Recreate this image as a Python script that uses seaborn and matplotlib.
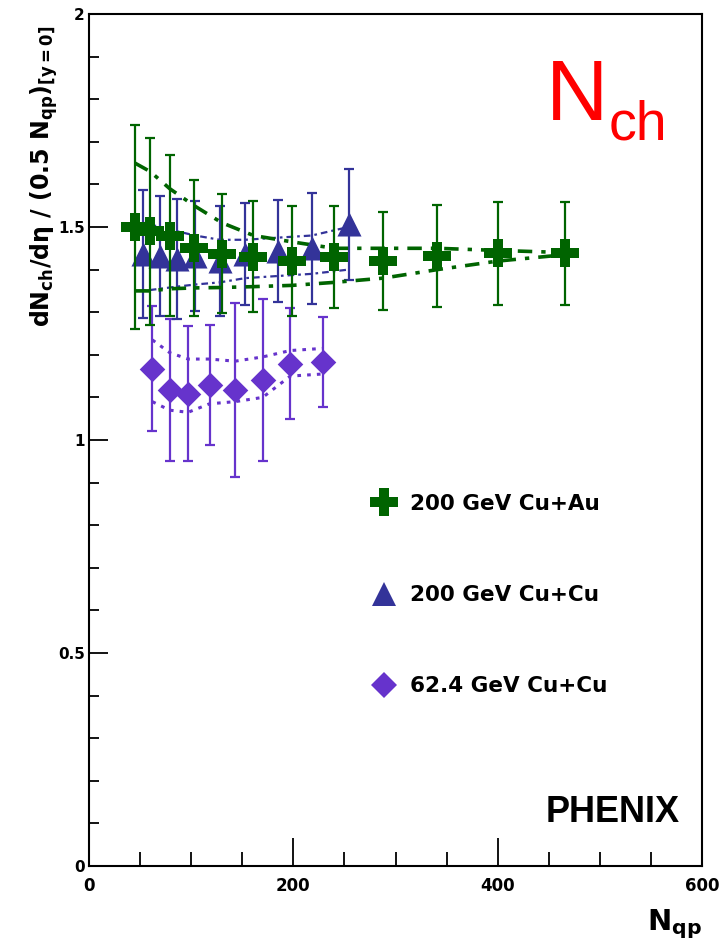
import matplotlib
matplotlib.use("Agg")
import matplotlib.pyplot as plt
from matplotlib.lines import Line2D
from matplotlib.ticker import MultipleLocator, FixedLocator
import seaborn as sns
import pandas as pd

# ---------------- data ----------------
cuau_x = [45, 60, 79, 103, 130, 161, 199, 240, 288, 341, 400, 466]
cuau_y = [1.50, 1.49, 1.48, 1.45, 1.437, 1.43, 1.42, 1.43, 1.42, 1.432, 1.438, 1.438]
cuau_err = [0.24, 0.22, 0.19, 0.16, 0.14, 0.13, 0.13, 0.12, 0.115, 0.12, 0.12, 0.12]
cuau_hi = [1.65, 1.63, 1.59, 1.55, 1.51, 1.48, 1.465, 1.45, 1.45, 1.45, 1.445, 1.44]
cuau_lo = [1.35, 1.35, 1.355, 1.357, 1.358, 1.36, 1.363, 1.37, 1.38, 1.40, 1.42, 1.435]

cucu200_x = [53, 69.5, 86, 104, 128, 153, 185, 218, 254]
cucu200_y = [1.436, 1.432, 1.425, 1.432, 1.42, 1.436, 1.444, 1.45, 1.506]
cucu200_err = [0.15, 0.14, 0.14, 0.13, 0.13, 0.12, 0.12, 0.13, 0.13]
cucu200_hi = [1.51, 1.50, 1.49, 1.48, 1.47, 1.47, 1.475, 1.48, 1.50]
cucu200_lo = [1.35, 1.355, 1.36, 1.365, 1.37, 1.38, 1.385, 1.39, 1.40]

cucu62_x = [62, 79, 97, 118, 143, 170, 197, 229]
cucu62_y = [1.167, 1.117, 1.109, 1.129, 1.117, 1.14, 1.179, 1.183]
cucu62_err = [0.147, 0.167, 0.158, 0.14, 0.205, 0.19, 0.13, 0.105]
cucu62_hi = [1.235, 1.205, 1.19, 1.19, 1.185, 1.195, 1.21, 1.215]
cucu62_lo = [1.09, 1.07, 1.065, 1.085, 1.09, 1.10, 1.15, 1.155]

labels = ["200 GeV Cu+Au", "200 GeV Cu+Cu", "62.4 GeV Cu+Cu"]
x_ticks = [0, 200, 400, 600]
y_ticks = [0, 0.5, 1, 1.5, 2]
y_ticklabels = ["0", "0.5", "1", "1.5", "2"]

GREEN = "#006400"
BLUE = "#333399"
PURPLE = "#6633cc"

sns.set_style("ticks")
plt.rcParams["font.family"] = ["DejaVu Sans"]
plt.rcParams["mathtext.default"] = "regular"
for k in ["text.color", "axes.labelcolor", "xtick.color", "ytick.color", "axes.edgecolor"]:
    plt.rcParams[k] = "black"

W, H = 724, 944
fig = plt.figure(figsize=(W / 100, H / 100), dpi=100)
ax = fig.add_axes([89 / W, 1 - 866 / H, 613 / W, 852 / H])

series = [
    (cucu62_x, cucu62_y, cucu62_err, cucu62_hi, cucu62_lo, PURPLE, "D", 170, (0, (1.2, 2.0)), 2.2, labels[2]),
    (cucu200_x, cucu200_y, cucu200_err, cucu200_hi, cucu200_lo, BLUE, "^", 300, (0, (1.2, 1.8, 3, 1.8)), 1.6, labels[1]),
    (cuau_x, cuau_y, cuau_err, cuau_hi, cuau_lo, GREEN, "P", 400, (0, (4, 2.5, 1.2, 2.5)), 2.6, labels[0]),
]

handles = {}
for i, (xs, ys, es, hi, lo, col, mk, s, ls, blw, lab) in enumerate(series):
    df = pd.DataFrame({"x": xs, "y": ys, "hi": hi, "lo": lo})
    sns.lineplot(data=df, x="x", y="hi", ax=ax, color=col, lw=blw, linestyle=ls,
                 estimator=None, sort=False, zorder=2 + i)
    sns.lineplot(data=df, x="x", y="lo", ax=ax, color=col, lw=blw, linestyle=ls,
                 estimator=None, sort=False, zorder=2 + i)
    ax.errorbar(xs, ys, yerr=es, fmt="none", ecolor=col, elinewidth=1.6,
                capsize=3.8, capthick=1.6, zorder=3 + i)
    sns.scatterplot(data=df, x="x", y="y", ax=ax, color=col, marker=mk, s=s,
                    linewidth=0, zorder=4 + i)
    handles[lab] = Line2D([], [], linestyle="none", marker=mk, color=col,
                          markersize=(s ** 0.5), markeredgewidth=0)

ax.set_xlim(0, 600)
ax.set_ylim(0, 2)
ax.set_xlabel("")
ax.set_ylabel("")

ax.xaxis.set_major_locator(FixedLocator(x_ticks))
ax.xaxis.set_minor_locator(MultipleLocator(50))
ax.yaxis.set_major_locator(FixedLocator(y_ticks))
ax.yaxis.set_minor_locator(MultipleLocator(0.1))
ax.set_xticklabels([str(v) for v in x_ticks], fontsize=12, fontweight="bold")
ax.set_yticklabels(y_ticklabels, fontsize=11, fontweight="bold")

for sp in ax.spines.values():
    sp.set_visible(True)
    sp.set_linewidth(1.5)
    sp.set_color("black")

ax.tick_params(axis="x", which="major", direction="in", length=20, width=1.3, pad=8)
ax.tick_params(axis="x", which="minor", direction="in", length=10, width=1.3)
ax.tick_params(axis="y", which="major", direction="in", length=13.5, width=1.3, pad=3)
ax.tick_params(axis="y", which="minor", direction="in", length=7, width=1.3)
ax.tick_params(top=False, right=False, which="both")

leg = ax.legend([handles[l] for l in labels], labels, loc="upper left",
                bbox_to_anchor=((371 - 89) / 613, (866 - 494) / 852),
                frameon=False, borderpad=0, borderaxespad=0,
                handlelength=1.2, handletextpad=0.6, labelspacing=3.3,
                prop={"weight": "bold", "size": 15.5})
for t in leg.get_texts():
    t.set_color("black")

def fx(px):
    return px / W

def fy(py):
    return 1 - py / H

fig.text(fx(44), fy(176), "dN$_{ch}$/dη / (0.5 N$_{qp}$)$_{[y{=}0]}$",
         rotation=90, ha="center", va="center", fontsize=17, fontweight="bold")
fig.text(fx(702), fy(930), "N$_{qp}$", ha="right", va="baseline",
         fontsize=21, fontweight="bold")
fig.text(fx(546), fy(120), "N", ha="left", va="baseline", fontsize=62,
         color="#ff0000", family=["Liberation Sans"])
fig.text(fx(609), fy(140), "ch", ha="left", va="baseline", fontsize=40,
         color="#ff0000", family=["Liberation Sans"])
fig.text(fx(546), fy(822), "PHENIX", ha="left", va="baseline", fontsize=26,
         fontweight="bold", family=["Liberation Sans"])

fig.savefig("out.png", dpi=100)
